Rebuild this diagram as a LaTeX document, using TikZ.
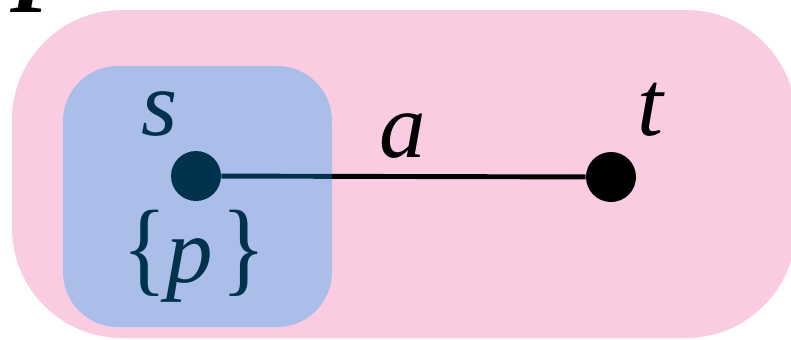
\documentclass[tikz,border=0pt]{standalone}
\usepackage{fontspec}
\setmainfont{Liberation Serif}[ItalicFont={Liberation Serif Italic}, BoldItalicFont={Liberation Serif Bold Italic}]
\definecolor{pinkbg}{RGB}{249,204,226}
\definecolor{bluebox}{RGB}{0,162,249}
\tikzset{
    vertex/.style={circle, fill=black, inner sep=0pt, minimum size=1cm},
    lbl/.style={inner sep=0pt, anchor=base, font=\fontsize{53}{60}\selectfont\itshape},
}
\begin{document}
\begin{tikzpicture}[x=0.02cm, y=-0.02cm]
    \useasboundingbox (0,0) rectangle (791,339);
    \node[lbl, anchor=base west, font=\fontsize{53}{60}\selectfont\bfseries\itshape] (title) at (10,12) {P};
    \fill[pinkbg, rounded corners=2.2cm] (12,10) rectangle (796,338);
    \node[vertex] (s) at (196,176) {};
    \node[vertex] (t) at (611,177) {};
    \draw[line width=2.8pt] (s) -- (t);
    \node[lbl] (slbl) at (160,135) {s};
    \node[lbl] (tlbl) at (650,135) {t};
    \node[lbl] (albl) at (403,157) {a};
    \node[lbl] (plbl) at (194,282) {{\upshape\scalebox{1}[1.12]{\{}}p{\upshape\hspace{0.08em}\scalebox{1}[1.12]{\}}}};
    % source set, drawn see-through over the vertex
    \fill[bluebox, fill opacity=0.31, rounded corners=1.1cm] (63,66) rectangle (332,327);
\end{tikzpicture}
\end{document}
